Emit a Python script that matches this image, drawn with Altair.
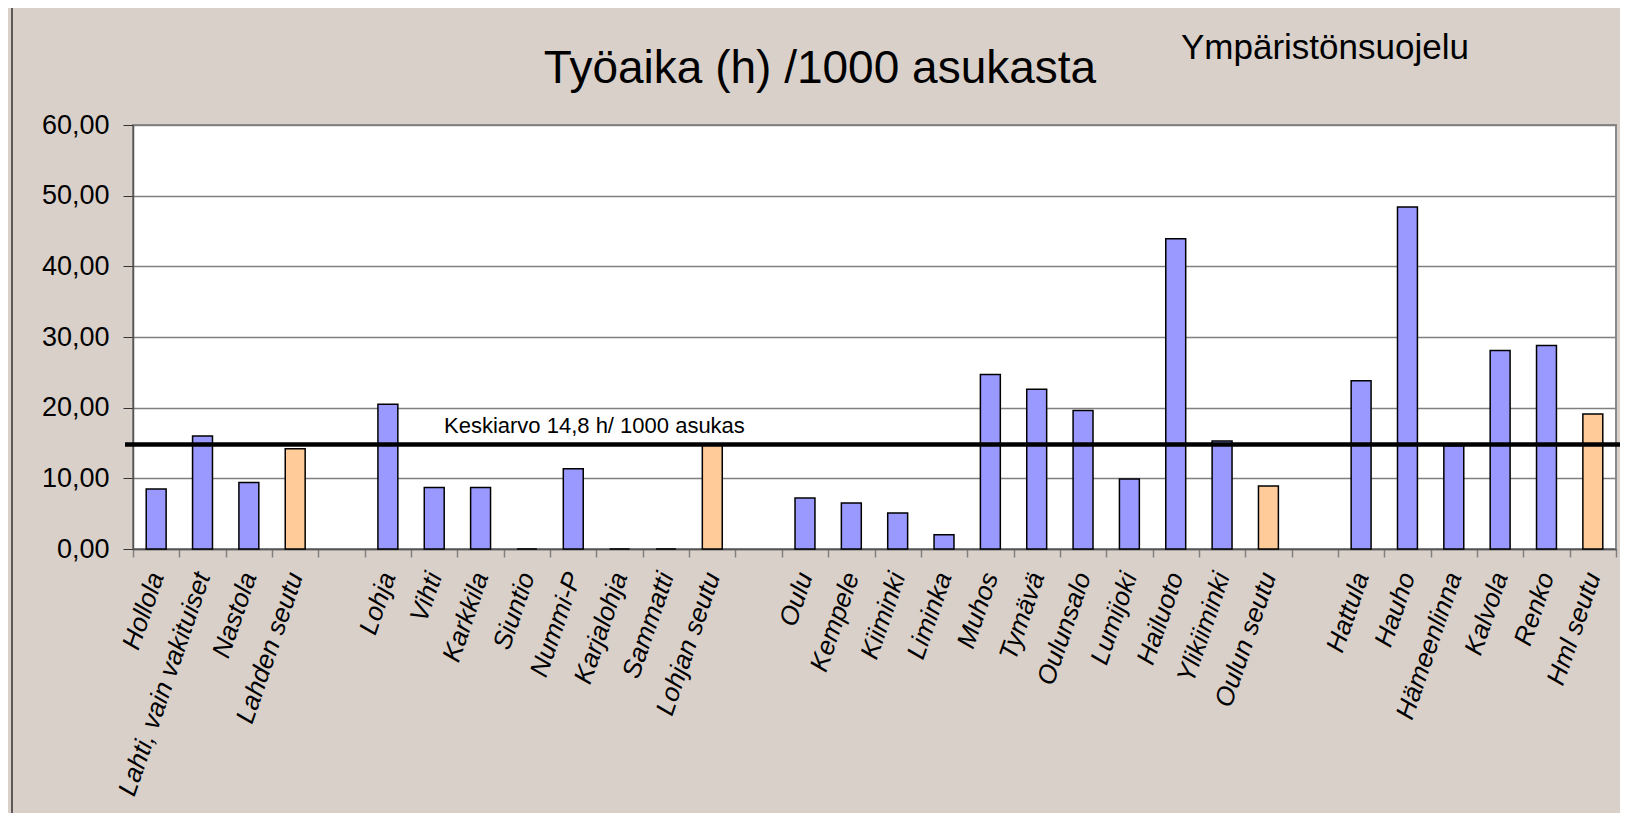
import altair as alt
import pandas as pd

# ---- data ----
categories = [
    "Hollola", "Lahti, vain vakituiset", "Nastola", "Lahden seutu", " ",
    "Lohja", "Vihti", "Karkkila", "Siuntio", "Nummi-P", "Karjalohja", "Sammatti", "Lohjan seutu", "  ",
    "Oulu", "Kempele", "Kiiminki", "Liminka", "Muhos", "Tymävä", "Oulunsalo", "Lumijoki",
    "Hailuoto", "Ylikiiminki", "Oulun seutu", "   ",
    "Hattula", "Hauho", "Hämeenlinna", "Kalvola", "Renko", "Hml seutu",
]
values = [
    8.5, 16.0, 9.4, 14.2, None,
    20.5, 8.7, 8.7, 0.0, 11.35, 0.0, 0.0, 14.7, None,
    7.2, 6.5, 5.1, 2.0, 24.7, 22.6, 19.6, 9.9, 43.9, 15.3, 8.9, None,
    23.8, 48.4, 14.6, 28.1, 28.8, 19.1,
]
kinds = (["kunta"] * 3 + ["seutu", "tyhjä"]
         + ["kunta"] * 7 + ["seutu", "tyhjä"]
         + ["kunta"] * 10 + ["seutu", "tyhjä"]
         + ["kunta"] * 5 + ["seutu"])
y_ticks = [0, 10, 20, 30, 40, 50, 60]
mean_value = 14.8
mean_label = "Keskiarvo 14,8 h/ 1000 asukas"
title_text = "Työaika (h) /1000 asukasta"
subtitle_text = "Ympäristönsuojelu"

df = pd.DataFrame({"kunta": categories, "arvo": values, "tyyppi": kinds})

FONT = "Liberation Sans"
W, H = 1483, 424

bars = alt.Chart(df).mark_bar(
    width=alt.RelativeBandSize(0.43), stroke="black", strokeWidth=1.5
).encode(
    x=alt.X(
        "kunta:N", sort=None,
        scale=alt.Scale(domain=categories, paddingInner=0, paddingOuter=0),
        axis=alt.Axis(
            title=None, labelAngle=289, labelAlign="right", labelBaseline="middle",
            labelFont=FONT, labelFontStyle="italic", labelFontSize=26, labelColor="black",
            labelPadding=16, labelLimit=400, tickBand="extent", tickSize=8,
            tickColor="#808080", tickWidth=1.5, domainColor="#555555", domainWidth=1.5,
            grid=False,
        ),
    ),
    y=alt.Y(
        "arvo:Q",
        scale=alt.Scale(domain=[0, 60], nice=False),
        axis=alt.Axis(
            title=None, values=y_ticks,
            labelExpr="replace(format(datum.value, '.2f'), '.', ',')",
            labelFont=FONT, labelFontSize=27, labelColor="black", labelPadding=14,
            tickSize=10, tickColor="#333333", domainColor="#555555", domainWidth=1.5,
            grid=True, gridColor="#808080", gridWidth=1.5,
        ),
    ),
    color=alt.Color(
        "tyyppi:N",
        scale=alt.Scale(domain=["kunta", "seutu", "tyhjä"], range=["#9999FF", "#FFCC99", "#FFFFFF"]),
        legend=None,
    ),
)

mean_rule = alt.Chart(pd.DataFrame({"m": [mean_value]})).mark_rule(
    color="black", strokeWidth=4.5
).encode(
    y=alt.Y("m:Q", title=None),
    x=alt.value(-8),
    x2=alt.value(W + 11),
)

mean_text = alt.Chart(pd.DataFrame({"t": [mean_label]})).mark_text(
    font=FONT, fontSize=22, color="black", align="left", baseline="alphabetic"
).encode(text="t:N", x=alt.value(311), y=alt.value(308))

title = alt.Chart(pd.DataFrame({"t": [title_text]})).mark_text(
    font=FONT, fontSize=46, color="black", align="center", baseline="alphabetic"
).encode(text="t:N", x=alt.value(687), y=alt.value(-42))

subtitle = alt.Chart(pd.DataFrame({"t": [subtitle_text]})).mark_text(
    font=FONT, fontSize=35, color="black", align="left", baseline="alphabetic"
).encode(text="t:N", x=alt.value(1048), y=alt.value(-66))

border = alt.Chart(pd.DataFrame({"a": [0]})).mark_rule(
    color="#333333", strokeWidth=1.5
).encode(x=alt.value(-121), y=alt.value(-125), y2=alt.value(700))

chart = alt.layer(bars, mean_rule, mean_text, title, subtitle, border).properties(
    width=W, height=H,
    autosize=alt.AutoSizeParams(type="none"),
    padding={"left": 125, "top": 117, "right": 4, "bottom": 264},
    background="#D9D0CA",
).configure_view(
    stroke="#8A8A8A", strokeWidth=2, fill="white"
)

chart.save("out.html", embed_options={"renderer": "svg", "actions": False})
